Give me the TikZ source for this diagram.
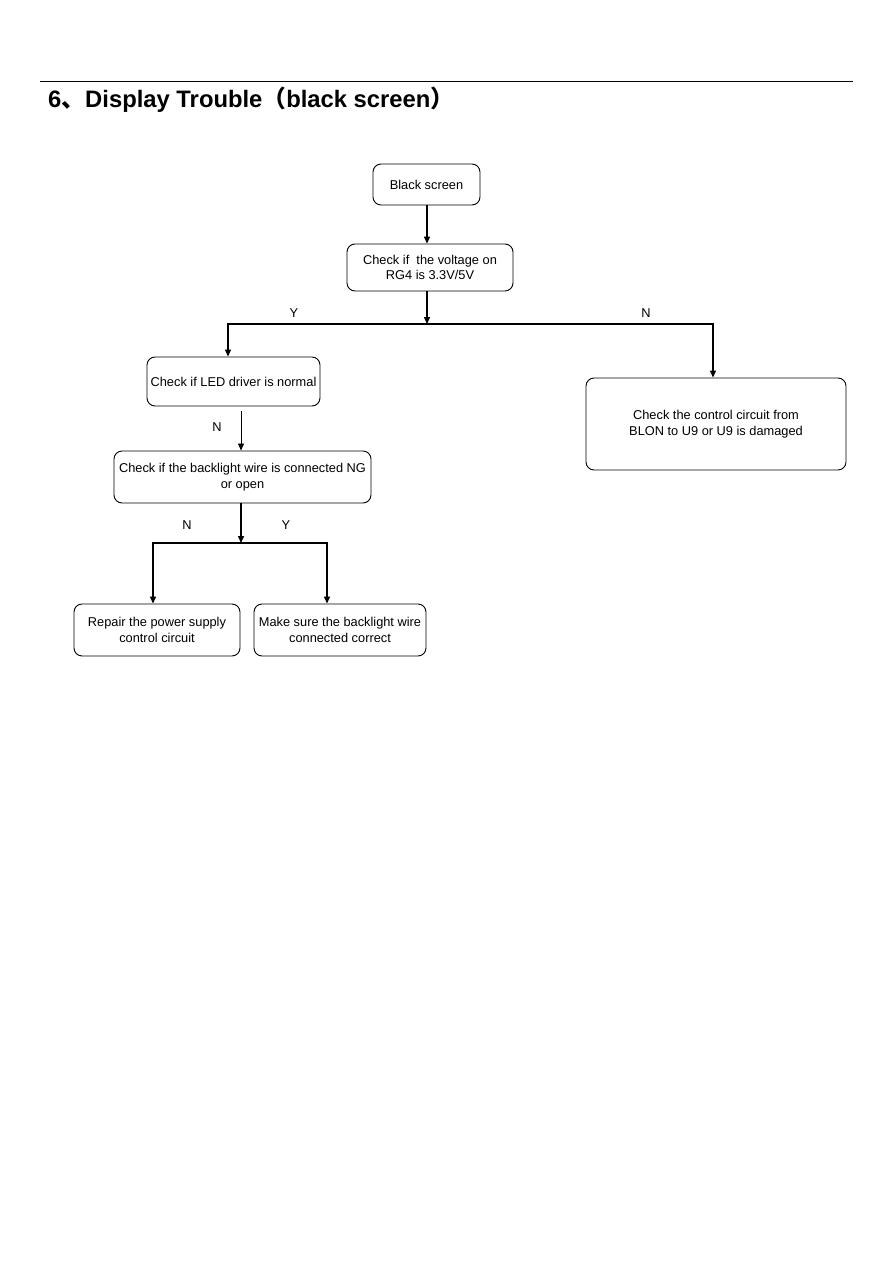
\documentclass[tikz,border=0pt]{standalone}
\usepackage{fontspec}
\setmainfont{Liberation Sans}
\newfontfamily\cjk{Noto Sans CJK SC}
\usetikzlibrary{arrows.meta}
\begin{document}
\begin{tikzpicture}[x=1pt,y=-1pt,
  box/.style={draw=black,line width=0.9pt,rounded corners=8pt,inner sep=0pt,align=center,
    font=\fontsize{12.8}{15.5}\selectfont},
  lbl/.style={inner sep=0pt,font=\fontsize{12.8}{15.5}\selectfont},
  arr/.style={line width=1.4pt,-{Triangle[length=7pt,width=6pt]}},
  ln/.style={line width=1.4pt},
  thinarr/.style={line width=0.8pt,-{Triangle[length=7pt,width=6pt]}}]
\useasboundingbox (0,0) rectangle (893,1263);
\fill[white] (0,0) rectangle (893,1263);
% header
\coordinate (rl) at (40,81);
\coordinate (rr) at (853,81);
\draw[line width=0.9pt] (rl) -- (rr);
\node[anchor=base west,inner sep=0pt,font=\fontsize{23.8}{26}\selectfont\bfseries] (title) at (48,107)
  {6{\cjk 、}Display Trouble{\cjk （}black screen{\cjk ）}};
% boxes
\node[box,minimum width=107,minimum height=41] (bs) at (426.5,184.5) {Black screen};
\node[box,minimum width=166,minimum height=47] (v) at (430,267.5) {Check if\ \ the voltage on\\RG4 is 3.3V/5V};
\node[box,minimum width=173,minimum height=49] (led) at (233.5,381.5) {Check if LED driver is normal};
\node[box,minimum width=260,minimum height=92] (r) at (716,424) {Check the control circuit from\\BLON to U9 or U9 is damaged};
\node[box,minimum width=257,minimum height=52] (bl) at (242.5,477) {Check if the backlight wire is connected NG\\or open};
\node[box,minimum width=166,minimum height=52] (rep) at (157,630) {Repair the power supply\\control circuit};
\node[box,minimum width=172,minimum height=52] (mk) at (340,630) {Make sure the backlight wire\\connected correct};
% connectors
\coordinate (s1) at (427,324);
\coordinate (s2) at (241,543);
\draw[arr] ([xshift=0.5]bs.south) -- ([xshift=0.5]bs.south |- v.north);
\draw[arr] (s1 |- v.south) -- (s1);
\draw[ln] (s1) -| ([xshift=-5.5,yshift=30]led.north);
\draw[arr] ([xshift=-5.5,yshift=30]led.north) -- ([xshift=-5.5]led.north);
\draw[ln] (s1) -| ([xshift=-3,yshift=50]r.north);
\draw[arr] ([xshift=-3,yshift=50]r.north) -- ([xshift=-3]r.north);
\draw[thinarr] ([xshift=7.5,yshift=-5]led.south) -- ([xshift=-1.5]bl.north);
\draw[arr] ([xshift=-1.5]bl.south) -- (s2);
\draw[ln] (s2) -| ([xshift=-4,yshift=58]rep.north);
\draw[arr] ([xshift=-4,yshift=58]rep.north) -- ([xshift=-4]rep.north);
\draw[ln] (s2) -| ([xshift=-13,yshift=58]mk.north);
\draw[arr] ([xshift=-13,yshift=58]mk.north) -- ([xshift=-13]mk.north);
% labels
\node[lbl] (ly1) at (294,313) {Y};
\node[lbl] (ln1) at (646,313) {N};
\node[lbl] (ln2) at (217,427) {N};
\node[lbl] (ln3) at (187,525) {N};
\node[lbl] (ly2) at (286,525) {Y};
\end{tikzpicture}
\end{document}
